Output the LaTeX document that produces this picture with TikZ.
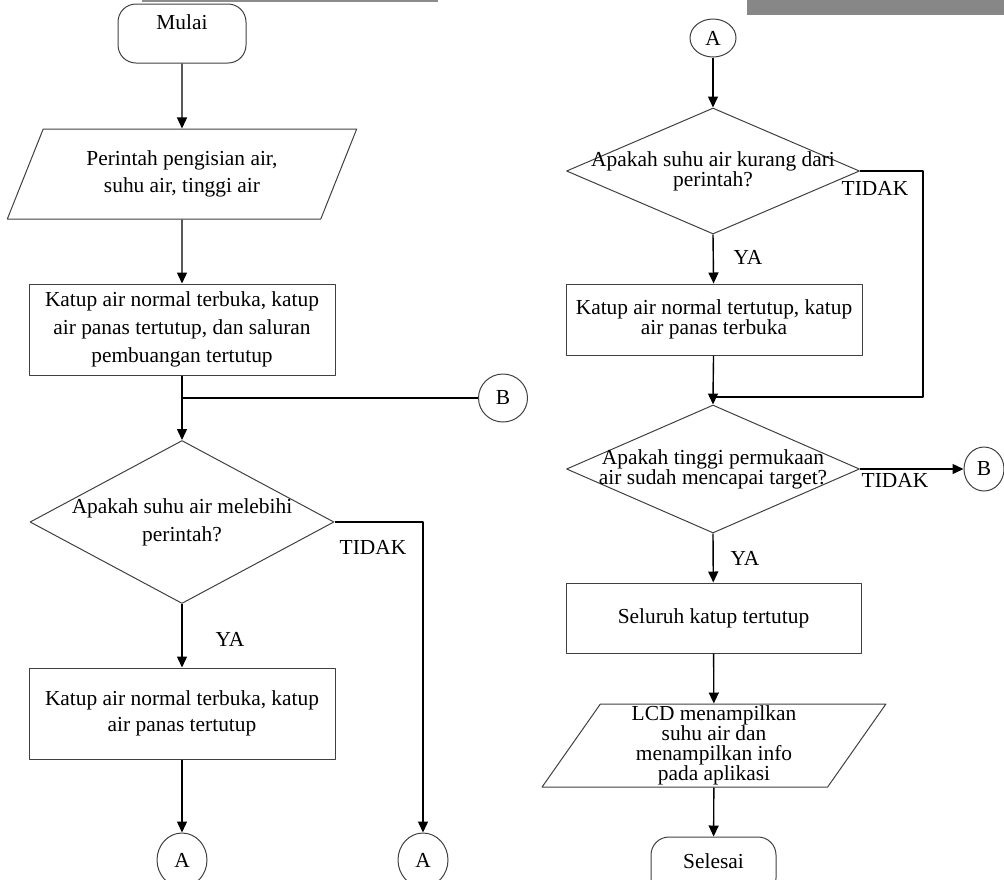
\documentclass[tikz,border=0pt]{standalone}
\usepackage{fontspec}
\setmainfont{Liberation Serif}
\usetikzlibrary{shapes.geometric,arrows.meta}

\begin{document}
\begin{tikzpicture}[x = 1pt, y = -1pt, line join = round,
  font = \fontsize{21.4}{27}\selectfont,
  bentuk/.style = {draw = black!75, line width = 1pt, align = center, inner sep = 0pt},
  terminal/.style = {bentuk, rectangle, rounded corners = 18pt, minimum height = 59pt},
  io/.style = {bentuk, trapezium, trapezium stretches = true, trapezium left angle = 62, trapezium right angle = 118},
  proses/.style = {bentuk, rectangle},
  keputusan/.style = {bentuk, diamond},
  konektor/.style = {bentuk, ellipse},
  rapat/.style = {font = \fontsize{21.4}{20}\selectfont},
  flow/.style = {-{Triangle[length = 11pt, width = 10pt]}, line width = 1.4pt},
  link/.style = {line width = 1.4pt}]
\path[use as bounding box] (0, 0) rectangle (1004, 879);
\clip (0, 0) rectangle (1004, 879);
\fill[black!45] (142, 0) rectangle (438, 1.5);
\fill[black!47] (747, 0) rectangle (1004, 15);

% kolom kiri
\node[terminal, minimum width = 128pt, label = {[anchor = north, inner sep = 11pt]north:Mulai}] (mulai) at (182, 33.5) {};
\node[io, minimum width = 350pt, minimum height = 90pt] (input) at (182, 174) {Perintah pengisian air,\\suhu air, tinggi air};
\node[proses, minimum width = 306pt, minimum height = 91pt, font = \fontsize{21.4}{28}\selectfont] (katup1) at (182, 329.5)
  {Katup air normal terbuka, katup\\air panas tertutup, dan saluran\\pembuangan tertutup};
\coordinate (j1) at (182, 398);
\node[konektor, minimum width = 49pt, minimum height = 48pt] (b1) at (503, 398) {B};
\node[keputusan, minimum width = 304pt, minimum height = 163pt,
  label = {[align = center, font = \fontsize{21.4}{28}\selectfont]center:{Apakah suhu air melebihi\\perintah?}}] (cek1) at (182, 522) {};
\node (tidak1) at (373, 547) {TIDAK};
\node (ya1) at (230, 639) {YA};
\node[proses, minimum width = 306pt, minimum height = 91pt, font = \fontsize{21.4}{26}\selectfont] (katup2) at (182, 713.5)
  {Katup air normal terbuka, katup\\air panas tertutup};
\node[konektor, minimum width = 50pt, minimum height = 54pt] (a1) at (182, 860) {A};
\node[konektor, minimum width = 50pt, minimum height = 54pt] (a2) at (423, 860) {A};

% kolom kanan
\node[konektor, minimum width = 46pt, minimum height = 38pt] (a3) at (713, 38) {A};
\node[keputusan, minimum width = 293pt, minimum height = 126pt,
  label = {[align = center, rapat]center:{Apakah suhu air kurang dari\\perintah?}}] (cek2) at (713, 171) {};
\node (tidak2) at (875, 188) {TIDAK};
\node (ya2) at (748, 257) {YA};
\node[proses, rapat, minimum width = 296pt, minimum height = 71pt] (katup3) at (714, 319.5)
  {Katup air normal tertutup, katup\\air panas terbuka};
\coordinate (j2) at (713, 397);
\node[keputusan, minimum width = 293pt, minimum height = 128pt,
  label = {[align = center, rapat]center:{Apakah tinggi permukaan\\air sudah mencapai target?}}] (cek3) at (713, 469) {};
\node (tidak3) at (895, 480) {TIDAK};
\node[konektor, minimum width = 40pt, minimum height = 44pt] (b2) at (984, 469) {B};
\node (ya3) at (745, 558) {YA};
\node[proses, minimum width = 295pt, minimum height = 70pt] (seluruh) at (713.5, 618) {Seluruh katup tertutup};
\node[io, rapat, minimum width = 344pt, minimum height = 83pt] (lcd) at (714, 745.5)
  {LCD menampilkan\\suhu air dan\\menampilkan info\\pada aplikasi};
\node[terminal, minimum width = 125pt, label = {[anchor = north, inner sep = 17pt]north:Selesai}] (selesai) at (713.5, 866.5) {};

%\draw[help lines] (0, 0) grid[step = 50] (1004, 879);
\draw[flow] (mulai) -- (input);
\draw[flow] (input) -- (katup1);
\draw[link] (katup1) -- (j1) -- (b1);
\draw[flow] (j1) -- (cek1.north);
\draw[flow] (cek1.east) -| (a2.north);
\draw[flow] (cek1.south) -- (katup2);
\draw[flow] (katup2) -- (a1);

\draw[flow] (a3) -- (cek2.north);
\draw[link] (cek2.east) -- ++(63, 0) |- (j2);
\draw[flow] (cek2.south) -- (katup3);
\draw[link] (katup3) -- (j2);
\draw[flow] (j2) -- (cek3.north);
\draw[flow] (cek3.east) -- (b2);
\draw[flow] (cek3.south) -- (seluruh);
\draw[flow] (seluruh) -- (lcd);
\draw[flow] (lcd) -- (selesai);
\end{tikzpicture}
\end{document}
